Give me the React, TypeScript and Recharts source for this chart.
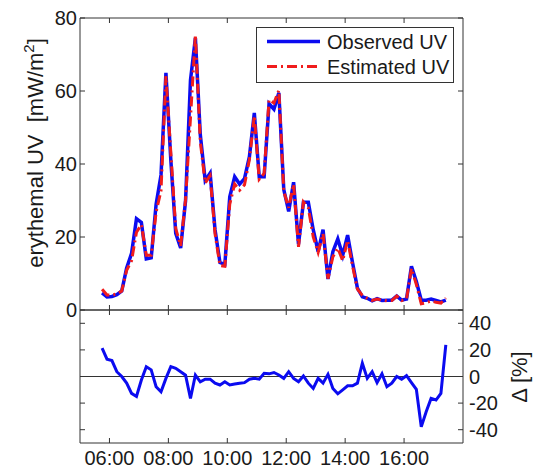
import { LineChart, Line, XAxis, YAxis, ReferenceLine } from "recharts";

// 10-minute samples
const times = [
  "05:45", "05:55", "06:05", "06:15", "06:25", "06:35", "06:45", "06:55", "07:05", "07:15",
  "07:25", "07:35", "07:45", "07:55", "08:05", "08:15", "08:25", "08:35", "08:45", "08:55",
  "09:05", "09:15", "09:25", "09:35", "09:45", "09:55", "10:05", "10:15", "10:25", "10:35",
  "10:45", "10:55", "11:05", "11:15", "11:25", "11:35", "11:45", "11:55", "12:05", "12:15",
  "12:25", "12:35", "12:45", "12:55", "13:05", "13:15", "13:25", "13:35", "13:45", "13:55",
  "14:05", "14:15", "14:25", "14:35", "14:45", "14:55", "15:05", "15:15", "15:25", "15:35",
  "15:45", "15:55", "16:05", "16:15", "16:25", "16:35", "16:45", "16:55", "17:05", "17:15",
  "17:25",
];

const observedUV = [
  4.7, 3.6, 3.7, 4.2, 5.2, 11.5, 15.5, 25, 24, 14,
  14.3, 29, 37, 65, 41, 21, 17, 30, 63, 74.5,
  48, 35.5, 37.5, 22, 13, 12.5, 31, 36.5, 34.5, 36,
  42, 54, 36.5, 36.5, 56.5, 55, 59.5, 33, 27, 35,
  18, 29.5, 29.5, 22, 16, 22, 8.5, 16, 19.5, 15,
  20.5, 13, 6, 3.6, 3.2, 2.5, 3.1, 2.6, 2.7, 2.7,
  3.8, 2.7, 3, 12, 7.8, 2.7, 2.7, 3, 2.6, 2.2,
  2.7,
];

const estimatedUV = [
  5.7, 4.1, 4.1, 4.4, 5.2, 10.9, 13.5, 21.3, 23.4, 15,
  15, 26.8, 32.7, 64.1, 43, 22.3, 17.6, 30.3, 52.6, 75.3,
  46.1, 34.8, 36.8, 20.9, 12.2, 12, 29, 34.5, 32.8, 34.3,
  41.2, 53.2, 35.8, 37.4, 57.6, 56.7, 60.2, 32.5, 28, 34.5,
  17.3, 29.6, 28, 20, 15.8, 20.9, 8.6, 14.6, 17, 13.5,
  19.1, 12.1, 5.7, 4, 3.2, 2.6, 3, 2.7, 2.5, 2.6,
  3.8, 2.6, 3, 11.4, 7, 1.7, 2, 2.5, 2.1, 1.9,
  3.3,
];

const deltaPct = [
  21.3, 13, 12, 3.6, 0, -5, -12.7, -15, -2.6, 7.4,
  5, -7.7, -11.5, -1.4, 7.4, 6.2, 3.6, 1, -16.5, 1.1,
  -4, -2, -2, -5, -6.4, -4, -6.4, -5.6, -5, -4.6,
  -2, -1.4, -2, 2.4, 2, 3, 1.1, -1.4, 3.6, -1.4,
  -4, 0.4, -5, -9, -1.4, -5, 1.6, -9, -13, -10,
  -7, -7, -5, 10, -1.4, 3.6, -4.6, 2, -7.7, -5,
  0, -2, 0.6, -4.6, -9.7, -37.9, -26.5, -16.5, -17.7, -12.7,
  23.8,
];

const hourTicks = [6, 8, 10, 12, 14, 16];
const uvTicks = [0, 20, 40, 60, 80];
const deltaTicks = [-40, -20, 0, 20, 40];

const toHours = (t: string) => {
  const [h, m] = t.split(":").map(Number);
  return h + m / 60;
};

const rows = times.map((t, i) => ({
  hour: toHours(t),
  obs: observedUV[i],
  est: estimatedUV[i],
  delta: deltaPct[i],
}));

const AX = "#333";
const BLUE = "#0b0bf0";
const RED = "#f01c1c";
const FONT = '"Liberation Sans", Arial, Helvetica, sans-serif';
const tickFont = { fill: "#1a1a1a", fontSize: 20, fontFamily: FONT };
const noLabel = () => "";
const fmtHour = (h: number) => `${String(h).padStart(2, "0")}:00`;

export default function App() {
  return (
    <div style={{ position: "absolute", left: 0, top: 0, width: 533, height: 468, background: "#fff", fontFamily: FONT }}>
      {/* upper panel: UV */}
      <div style={{ position: "absolute", left: 0, top: 0 }}>
        <LineChart width={533} height={330} data={rows} margin={{ top: 17, right: 69, bottom: 19, left: 79 }}>
          <XAxis xAxisId="b" orientation="bottom" dataKey="hour" type="number" domain={[5, 18]} ticks={hourTicks}
            height={1} interval={0} tickSize={-5} tickFormatter={noLabel} stroke={AX} allowDataOverflow />
          <XAxis xAxisId="t" orientation="top" dataKey="hour" type="number" domain={[5, 18]} ticks={hourTicks}
            height={1} interval={0} tickSize={-5} tickFormatter={noLabel} stroke={AX} allowDataOverflow />
          <YAxis yAxisId="l" orientation="left" type="number" domain={[0, 80]} ticks={uvTicks}
            width={1} interval={0} tickSize={-5} tickMargin={8} tick={tickFont} stroke={AX} allowDataOverflow />
          <YAxis yAxisId="r" orientation="right" type="number" domain={[0, 80]} ticks={uvTicks}
            width={1} interval={0} tickSize={-5} tickFormatter={noLabel} stroke={AX} allowDataOverflow />
          <Line xAxisId="b" yAxisId="l" type="linear" dataKey="obs" stroke={BLUE} strokeWidth={3.5}
            dot={false} activeDot={false} isAnimationActive={false} />
          <Line xAxisId="b" yAxisId="l" type="linear" dataKey="est" stroke={RED} strokeWidth={3}
            strokeDasharray="10 4 2 4" dot={false} activeDot={false} isAnimationActive={false} />
        </LineChart>
      </div>

      {/* lower panel: difference */}
      <div style={{ position: "absolute", left: 0, top: 290 }}>
        <LineChart width={533} height={178} data={rows} margin={{ top: 19, right: 69, bottom: 24, left: 79 }}>
          <XAxis xAxisId="b" orientation="bottom" dataKey="hour" type="number" domain={[5, 18]} ticks={hourTicks}
            height={1} interval={0} tickSize={-5} tickMargin={13} tick={tickFont} tickFormatter={fmtHour}
            stroke={AX} allowDataOverflow />
          <XAxis xAxisId="t" orientation="top" dataKey="hour" type="number" domain={[5, 18]} ticks={hourTicks}
            height={1} interval={0} tickSize={-5} tickFormatter={noLabel} stroke={AX} allowDataOverflow />
          <YAxis yAxisId="l" orientation="left" type="number" domain={[-50, 50]} ticks={deltaTicks}
            width={1} interval={0} tickSize={-5} tickFormatter={noLabel} stroke={AX} allowDataOverflow />
          <YAxis yAxisId="r" orientation="right" type="number" domain={[-50, 50]} ticks={deltaTicks}
            width={1} interval={0} tickSize={-5} tickMargin={11} tick={tickFont} stroke={AX} allowDataOverflow />
          <ReferenceLine xAxisId="b" yAxisId="l" y={0} stroke={AX} strokeWidth={1.2} />
          <Line xAxisId="b" yAxisId="l" type="linear" dataKey="delta" stroke={BLUE} strokeWidth={3}
            dot={false} activeDot={false} isAnimationActive={false} />
        </LineChart>
      </div>

      {/* axis titles + legend */}
      <svg width={533} height={468} style={{ position: "absolute", left: 0, top: 0, pointerEvents: "none" }}
        fontFamily={FONT}>
        <text x={43} y={153} transform="rotate(-90 43 153)" textAnchor="middle" fontSize={22} fill="#1a1a1a"
          style={{ whiteSpace: "pre" }}>
          erythemal UV  [mW/m<tspan dy={-9} fontSize={15}>2</tspan><tspan dy={9}>]</tspan>
        </text>
        <text x={527} y={377} transform="rotate(-90 527 377)" textAnchor="middle" fontSize={22} fill="#1a1a1a"
          style={{ whiteSpace: "pre" }}>
          Δ [%]
        </text>

        <rect x={256.5} y={27.5} width={197} height={55} fill="#fff" stroke={AX} strokeWidth={1} />
        <line x1={267} y1={41.5} x2={320} y2={41.5} stroke={BLUE} strokeWidth={3.5} />
        <line x1={267} y1={66.5} x2={320} y2={66.5} stroke={RED} strokeWidth={3} strokeDasharray="10 4 2 4" />
        <text x={327} y={48.5} fontSize={20} fill="#1a1a1a">Observed UV</text>
        <text x={327} y={73.5} fontSize={20} fill="#1a1a1a">Estimated UV</text>
      </svg>
    </div>
  );
}
